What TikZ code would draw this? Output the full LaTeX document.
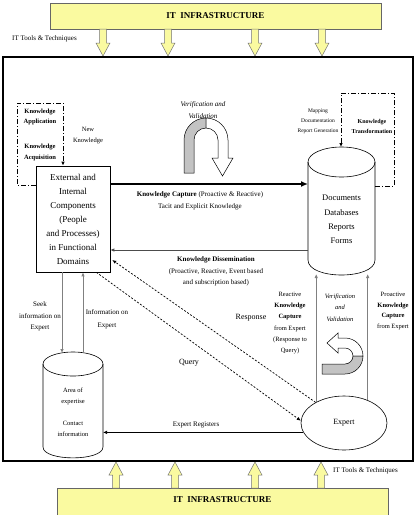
\documentclass[tikz,border=0pt]{standalone}
\usepackage{fontspec}
\setmainfont{Liberation Serif}
\usetikzlibrary{arrows.meta,shapes.geometric}
\definecolor{infra}{RGB}{250,250,160}
\definecolor{ribbon}{RGB}{195,195,195}
\newcommand{\fsz}[2]{\fontsize{#1}{#2}\selectfont}
\begin{document}
\begin{tikzpicture}[x=1pt,y=-1pt,
 lbl/.style={inner sep=0pt, align=center},
 yarr/.style={fill=infra, draw=black!55, line width=0.5pt},
 tip/.style={-{Latex[length=4pt,width=3.5pt]}},
 grayline/.style={draw=black!50, line width=0.8pt},
 dashdot/.style={line width=0.8pt, dash pattern=on 5pt off 2pt on 1pt off 2pt},
 dashy/.style={line width=0.7pt, dash pattern=on 2pt off 1.6pt},
 infrabox/.style={draw=black!60, fill=infra, minimum width=331, inner sep=0pt, font=\bfseries\fsz{9}{11}},
]
\useasboundingbox (0,0) rectangle (419,515);

% infrastructure boxes
\node[infrabox, minimum height=26] (topinfra) at (215.5,16) {IT\ \ INFRASTRUCTURE};
\node[infrabox, minimum height=30, text depth=6pt] (botinfra) at (222.5,503) {IT\ \ INFRASTRUCTURE};

\foreach \x in {103,168,255,322}
  \draw[yarr] (\x-3.5,29) -- (\x+3.5,29) -- (\x+3.5,43) -- (\x+7,43) -- (\x,56) -- (\x-7,43) -- (\x-3.5,43) -- cycle;
\foreach \x in {116,175,255,321}
  \draw[yarr] (\x-3.5,488) -- (\x+3.5,488) -- (\x+3.5,475) -- (\x+7,475) -- (\x,462) -- (\x-7,475) -- (\x-3.5,475) -- cycle;

\node[lbl, anchor=west, font=\fsz{7}{9}] (ttop) at (12,39) {IT Tools \& Techniques};
\node[lbl, anchor=west, font=\fsz{7}{9}] (tbot) at (333,471) {IT Tools \& Techniques};

% main frame
\draw[line width=1.6pt] (3,57) rectangle (413,461);

% external box
\node[draw, line width=0.6pt, minimum width=74, minimum height=106, inner sep=0pt, align=center, font=\fsz{9}{14}] (ext) at (73,219)
  {External and\\Internal\\Components\\(People\\and Processes)\\in Functional\\Domains};

% documents cylinder
\draw[line width=0.6pt] (308,162) -- (308,260) .. controls (308,280) and (375,280) .. (375,260) -- (375,162);
\draw[line width=0.6pt] (341.5,162) ellipse [x radius=33.5, y radius=15];
\coordinate (docsW) at (308,219.5);
\node[lbl, font=\fsz{8.5}{14.3}] (docs) at (341.5,219.5) {Documents\\Databases\\Reports\\Forms};

% area of expertise cylinder
\draw[line width=0.6pt] (43,364) -- (43,447) .. controls (43,461.5) and (103,461.5) .. (103,447) -- (103,364);
\draw[line width=0.6pt] (73,364) ellipse [x radius=30, y radius=12];
\coordinate (areaE) at (103,412);
\node[lbl, font=\fsz{6.5}{11}] (area) at (73,412) {Area of\\expertise\\[11pt]Contact\\information};

% expert
\node[draw, ellipse, line width=0.6pt, minimum width=86, minimum height=54, inner sep=0pt, font=\fsz{8}{10}] (exp) at (344,423) {Expert};

% dash-dot loops
\draw[dashdot, tip] (ext.west |- 0,185) -- (17,185) -- (17,103) -- (63,103) -- (ext.north -| 63,0);
\draw[dashdot, tip] (375,186) -- (394,186) -- (394,93) -- (341,93) -- (341,147);

\node[lbl, font=\bfseries\fsz{6.5}{10.5}] (kapp) at (40,117) {Knowledge\\Application};
\node[lbl, font=\bfseries\fsz{6.5}{10.5}] (kacq) at (40,152.5) {Knowledge\\Acquisition};
\node[lbl, font=\fsz{6.5}{11}] (newk) at (88,135.5) {New\\Knowledge};
\node[lbl, font=\fsz{5.5}{10}] (map) at (318,121) {Mapping\\Documentation\\Report Generation};
\node[lbl, font=\bfseries\fsz{6}{10}] (ktr) at (372,126) {Knowledge\\Transformation};

% top verification arch
\node[lbl, font=\itshape\fsz{7}{12}] (vv1) at (203,110) {Verification and\\Validation};
\draw[fill=ribbon, line width=0.5pt] (184,173) -- (184,140) .. controls (184,127.85) and (193.85,118) .. (206,118) -- (206,128) .. controls (199.37,128) and (194,133.37) .. (194,140) -- (194,173) -- cycle;
\draw[fill=white, line width=0.5pt] (206,118) .. controls (218.15,118) and (228,127.85) .. (228,140) -- (228,158) -- (233,158) -- (222.5,176) -- (212,158) -- (218,158) -- (218,140) .. controls (218,133.37) and (212.63,128) .. (206,128) -- cycle;

% knowledge capture / dissemination
\draw[line width=2.4pt, -{Latex[length=7pt,width=6pt]}] (ext.east |- 0,184) -- (docsW |- 0,184);
\node[lbl, font=\fsz{7}{12}] (kcap) at (200,201) {\textbf{Knowledge Capture} (Proactive \& Reactive)\\Tacit and Explicit Knowledge};
\draw[draw=black!70, line width=0.9pt, tip] (docsW |- 0,250) -- (ext.east |- 0,250);
\node[lbl, font=\fsz{7}{11.5}] (kdis) at (216,271.5) {\textbf{Knowledge Dissemination}\\(Proactive, Reactive, Event based\\and subscription based)};

% response / query
\draw[dashy, tip] (exp.144) -- ([xshift=2pt]ext.east |- 0,260);
\draw[dashy, tip] ([xshift=-14pt]ext.south east) -- (exp.177);
\node[lbl, font=\fsz{8}{10}] (resp) at (251,318) {Response};
\node[lbl, font=\fsz{8}{10}] (query) at (189,363) {Query};

% expert to documents
\draw[grayline, tip] (exp.143.8) -- (exp.143.8 |- 0,274);
\draw[grayline, tip] (exp.44.8) -- (exp.44.8 |- 0,274);
\node[lbl, font=\fsz{6.5}{11.2}] (react) at (290,323) {Reactive\\\textbf{Knowledge}\\\textbf{Capture}\\from Expert\\(Response to\\Query)};
\node[lbl, font=\itshape\fsz{6.5}{11.5}] (vv2) at (340,307.5) {Verification\\and\\Validation};
\node[lbl, font=\fsz{6.5}{10.7}] (proact) at (393,311) {Proactive\\\textbf{Knowledge}\\\textbf{Capture}\\from Expert};

% small U-turn arrow
\draw[fill=white, line width=0.5pt] (338,338) -- (345,338) .. controls (354.94,338) and (363,346.06) .. (363,356) -- (353,356) .. controls (353,351.58) and (349.42,348) .. (345,348) -- (338,348) -- (338,353) -- (327,343) -- (338,333) -- cycle;
\draw[fill=ribbon, line width=0.5pt] (363,356) .. controls (363,365.94) and (354.94,374) .. (345,374) -- (322,374) -- (322,364) -- (345,364) .. controls (349.42,364) and (353,360.42) .. (353,356) -- cycle;

% ext <-> area of expertise
\draw[grayline, tip] (ext.south -| 62,0) -- (62,353);
\draw[grayline, tip] (83,353) -- (ext.south -| 83,0);
\node[lbl, font=\fsz{7}{11.5}] (seek) at (40,316.5) {Seek\\information on\\Expert};
\node[lbl, font=\fsz{7}{13}] (info) at (107,319.5) {Information on\\Expert};

% expert registers
\draw[line width=0.7pt, tip] (exp.193) -- (exp.193 -| areaE);
\node[lbl, font=\fsz{7}{9}] (ereg) at (196,425) {Expert Registers};
\end{tikzpicture}
\end{document}
